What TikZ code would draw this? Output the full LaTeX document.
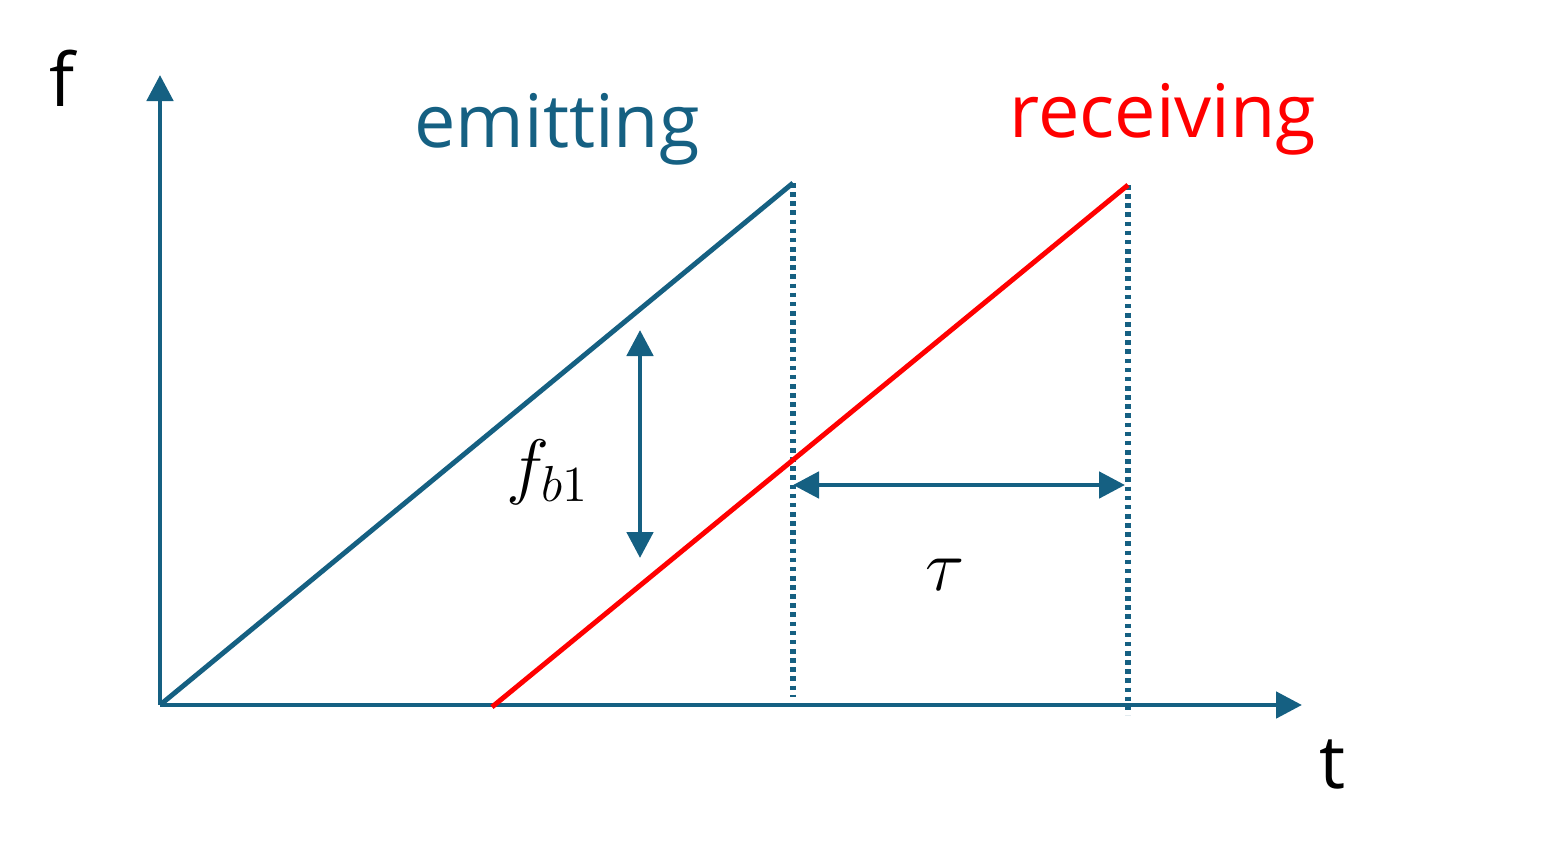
\documentclass[tikz,border=0pt]{standalone}
\usepackage{fontspec}
\setmainfont{Open Sans}
\usetikzlibrary{arrows.meta,positioning}
\definecolor{chirpblue}{RGB}{21,96,130}
\definecolor{chirpred}{RGB}{255,0,0}

\begin{document}
\begin{tikzpicture}[line cap=butt, line join=round, >={Triangle[length=0.26cm,width=0.26cm]}]
	\useasboundingbox (0,0) rectangle (15.53,8.62);
	\tikzset{
		axis/.style={chirpblue,line width=1.4pt,->},
		ramp/.style={line width=1.4pt},
		guide/.style={chirpblue,line width=1.6pt,dash pattern=on 1.3pt off 1.3pt},
		big/.style={font=\fontsize{21}{25}\selectfont}
	}
	\coordinate (O) at (1.60,1.57);
	\coordinate (Ytop) at (1.60,7.87);
	\coordinate (Xend) at (13.02,1.57);
	
	\coordinate (E0) at (1.60,1.57);
	\coordinate (E1) at (7.93,6.79);
	\coordinate (R0) at (4.92,1.55);
	\coordinate (R1) at (11.28,6.77);
	\coordinate (E1b) at (7.93,1.65);
	\coordinate (R1b) at (11.28,1.47);
	
	\coordinate (Fa) at (6.40,5.32);
	\coordinate (Fb) at (6.40,3.04);
	\coordinate (Ta) at (7.93,3.77);
	\coordinate (Tb) at (11.25,3.77);
	
	\draw [axis] (O)--(Ytop);
	\draw [axis] (O)--(Xend);
	\draw [guide] (E1)--(E1b);
	\draw [guide] (R1)--(R1b);
	\draw [ramp,chirpblue] (E0)--(E1);
	\draw [ramp,chirpred] (R0)--(R1);
	\draw [<->,chirpblue,line width=1.4pt] (Fa)--(Fb);
	\draw [<->,chirpblue,line width=1.4pt] (Ta)--(Tb);
	
	\node [big] (flab) at (0.62,7.84) {f};
	\node [big] (tlab) at (13.33,0.97) {t};
	\node [big,chirpblue] (emit) at (5.57,7.33) {emitting};
	\node [big,chirpred] (recv) at (11.63,7.43) {receiving};
	\node [big] (fb) at (5.48,3.90) {$f_{b1}$};
	\node [big] (tau) at (9.45,2.87) {$\tau$};
\end{tikzpicture}
\end{document}
